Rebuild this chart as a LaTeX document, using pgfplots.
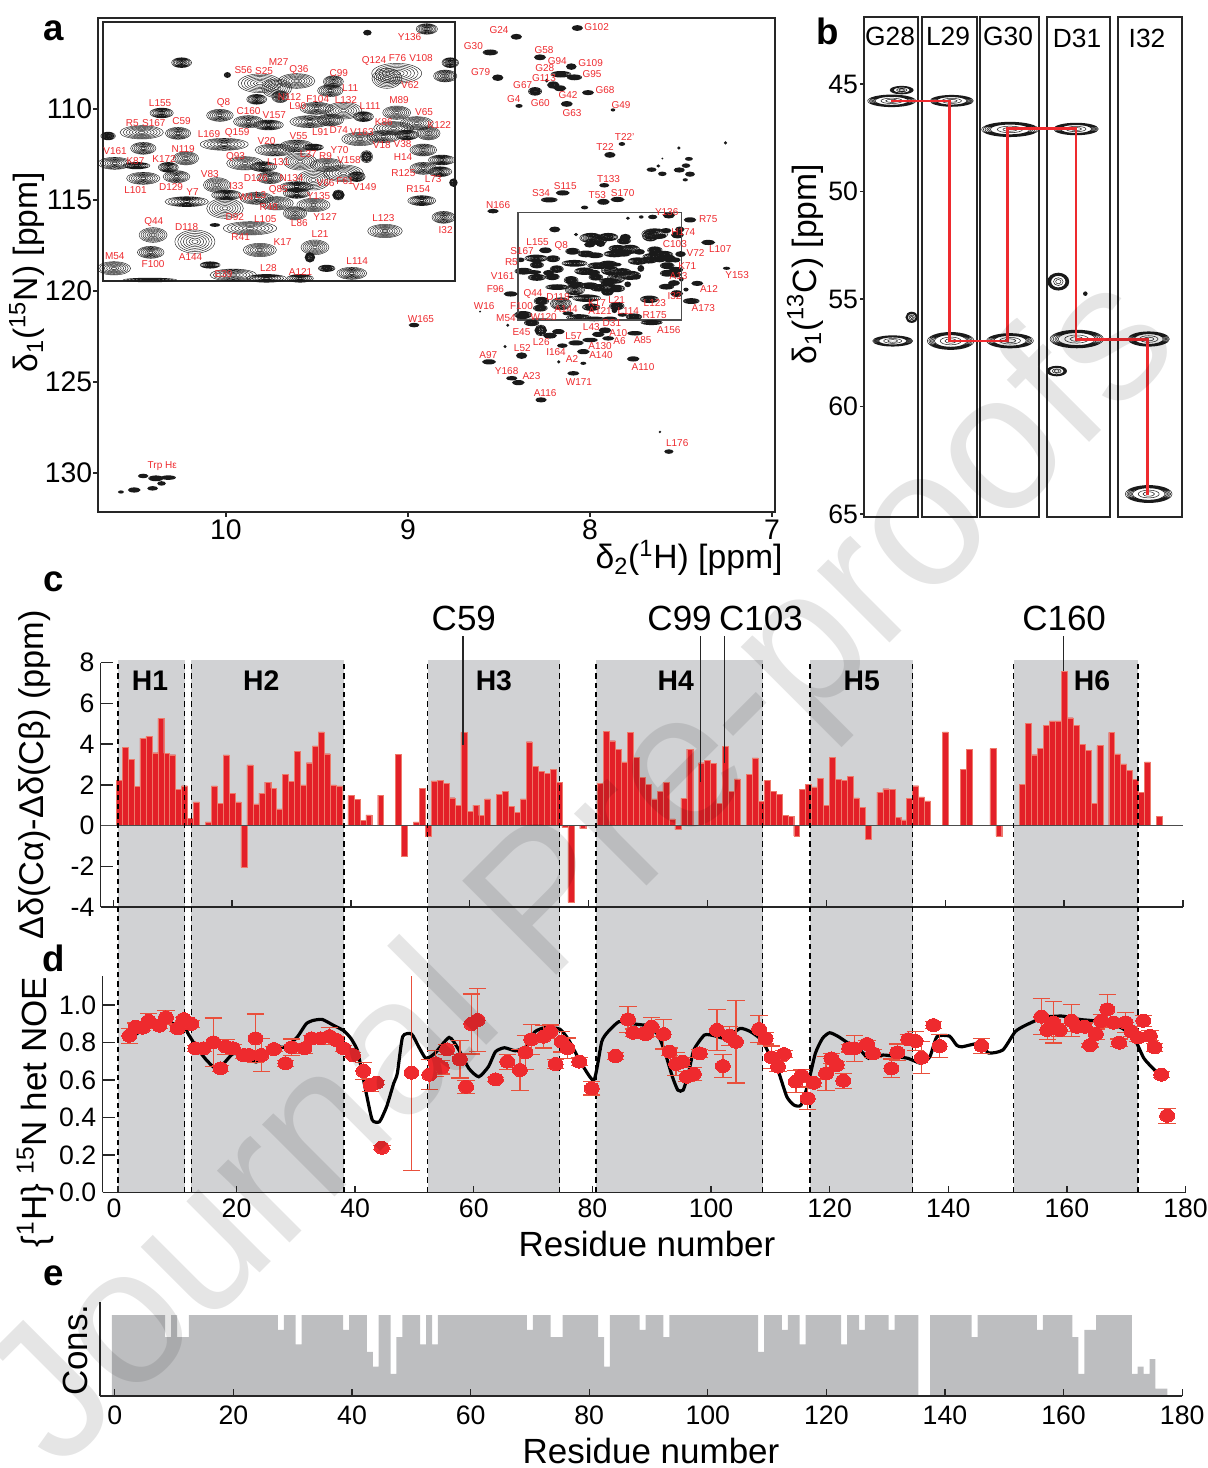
\documentclass[border=0pt]{standalone}
\usepackage{fontspec}
\setmainfont{Liberation Sans}
\usepackage{pgfplots}
\usepackage{pgfplotstable}
\pgfplotsset{compat=1.18}
\definecolor{pkc}{HTML}{1A1A1A}
\definecolor{lblred}{HTML}{EE2A2E}
\definecolor{barred}{HTML}{E32028}
\definecolor{baredge}{HTML}{EE7A6A}
\definecolor{ebred}{HTML}{E9503C}
\definecolor{helix}{HTML}{D1D2D4}
\definecolor{cons}{HTML}{BDBEC0}
\definecolor{spine}{HTML}{262626}
\newcommand\fT{\fontsize{21}{24}\selectfont}
\newcommand\fA{\fontsize{20.2}{24}\selectfont}
\newcommand\fK{\fontsize{16}{18}\selectfont}
\newcommand\fL{\fontsize{6}{7}\selectfont}
\def\pks{.2}\def\pklw{.3pt}
\newcommand\pkell[1]{\pgfpathellipse{\pgfpointorigin}{\pgfpoint{#1*\pa*\pks*1pt}{0pt}}{\pgfpoint{0pt}{#1*\pb*\pks*1pt}}}
\pgfdeclareplotmark{peak}{\pgfsetlinewidth{\pklw}\pgfsetstrokecolor{pkc}\pkell{1}\pkell{.86}\pkell{.72}\pkell{.58}\pkell{.44}\pkell{.3}\pkell{.16}\pgfusepathqstroke}
\pgfdeclareplotmark{peakb}{\pgfsetlinewidth{\pklw}\pgfsetstrokecolor{pkc}\pkell{1}\pkell{.94}\pkell{.88}\pkell{.82}\pkell{.76}\pkell{.7}\pkell{.45}\pkell{.25}\pgfusepathqstroke}
\pgfplotsset{
  base/.style={scale only axis,anchor=north west,axis line style={color=spine,line width=.9pt,-},tick style={color=spine,line width=.8pt},tick pos=left},
  peaks/.style={only marks,mark=peak,scatter,
    visualization depends on={\thisrow{a}\as\pa},
    visualization depends on={\thisrow{b}\as\pb},
    scatter/@pre marker code/.code={\pgfscope},
    scatter/@post marker code/.code={\endpgfscope}},
  labs/.style={mark=none,draw=none,nodes near coords,point meta=explicit symbolic,nodes near coords align={center},
    every node near coord/.style={font=\fL,text=lblred,inner sep=0pt}},
}
% ---------- 2D spectrum: peaks of the enlarged region (ppm, half axes)
\pgfplotstableread{
x y a b
7.567 115.847 32 16
7.719 115.931 12 8
8.194 116.615 30 15
8.077 116.896 10 8
7.644 116.858 75 30
7.669 116.972 45 30
7.507 116.615 25 15
7.520 116.919 35 18
7.994 117.086 65 28
7.900 117.033 55 22
7.951 117.2 45 28
7.814 117.253 38 18
7.806 117.048 30 18
8.002 117.451 30 15
7.942 117.39 25 18
8.245 117.762 35 15
8.096 117.816 40 18
8.023 117.96 45 18
7.972 118.036 45 15
7.849 117.656 50 18
7.780 117.709 55 25
7.729 117.846 30 15
7.866 117.96 60 18
7.814 117.922 40 18
7.644 117.755 42 20
7.593 117.998 50 20
7.652 118.112 60 20
7.563 118.226 35 20
7.738 118.355 55 20
7.678 118.302 50 18
7.618 118.264 35 15
8.296 118.203 65 20
8.203 118.226 38 18
8.382 118.287 22 12
8.085 118.477 72 18
8.292 118.568 38 18
7.955 118.606 60 18
7.900 118.515 50 18
7.857 118.545 30 10
8.365 118.91 50 18
8.309 118.963 40 10
8.183 118.796 38 20
8.228 119.001 30 15
8.207 119.214 40 18
8.292 119.252 50 18
8.032 118.91 55 20
7.985 118.986 40 15
7.891 118.872 50 25
7.823 118.948 50 20
7.780 119.138 60 25
7.721 118.758 18 18
7.746 119.214 25 15
7.576 118.606 40 18
7.529 118.834 40 15
7.576 119.024 40 18
7.533 119.1 35 15
7.968 119.237 40 18
7.857 119.29 50 30
7.900 119.442 50 15
8.104 119.404 40 22
8.181 119.784 65 15
8.079 119.632 45 15
8.083 119.936 55 30
8.002 119.708 50 18
7.951 119.822 50 20
7.900 119.594 40 15
7.857 119.86 50 20
7.793 119.632 18 15
7.904 120.05 35 20
7.580 119.761 42 15
7.524 120.141 35 18
7.674 120.453 52 20
7.499 119.351 12 12
8.019 120.392 80 20
8.267 120.544 42 22
8.160 120.696 60 35
8.273 120.939 40 18
7.994 120.886 50 20
7.853 120.825 42 22
7.866 121.053 15 15
8.367 121.304 50 20
7.759 121.418 45 18
7.823 121.304 25 10
8.062 121.456 70 18
7.977 121.532 60 12
7.891 121.532 40 12
8.121 121.228 30 10
8.275 121.57 80 6
8.109 120.316 15 5
}\tinsetpk
\pgfplotstableread{
x y lab
7.611 116.037 Y136
7.702 116.569 Q124
7.642 116.508 F76
7.582 116.508 V108
7.610 117.132 V62
8.036 116.79 S56
7.983 116.812 S25
7.946 116.6 M27
7.894 116.774 Q36
7.792 116.858 C99
7.763 117.2 L11
7.918 117.398 N112
8.249 117.542 L155
8.087 117.542 Q8
8.023 117.717 C160
7.957 117.8 V157
7.897 117.603 L90
7.846 117.436 F104
7.774 117.474 L132
7.712 117.603 L111
7.638 117.458 M89
7.574 117.74 V65
7.677 117.96 K86
7.535 118.044 K122
8.320 117.99 R5
8.265 117.99 S167
8.194 117.952 C59
7.839 118.188 L91
7.792 118.158 D74
7.733 118.203 V163
7.682 118.5 V18
7.629 118.462 V38
8.124 118.249 L169
8.052 118.218 Q159
7.977 118.393 V20
7.895 118.294 V55
8.364 118.636 V161
8.190 118.576 N119
8.312 118.849 K87
8.239 118.811 K172
8.056 118.773 Q93
7.947 118.872 L131
7.870 118.705 L37
7.826 118.743 R9
7.790 118.598 Y70
7.766 118.834 V158
7.628 118.766 H14
7.627 119.13 R125
7.551 119.275 L73
8.312 119.518 L101
8.221 119.457 D129
8.122 119.161 V83
8.004 119.237 D126
7.913 119.237 N134
7.826 119.366 V66
7.776 119.305 F61
7.726 119.45 V149
8.054 119.427 I33
8.166 119.556 Y7
7.947 119.526 Q85
8.030 119.678 W4
7.992 119.64 L3
7.844 119.662 Y135
7.589 119.495 R154
7.971 119.913 R48
8.058 120.126 D92
7.980 120.179 L105
7.827 120.141 Y127
7.893 120.278 L86
8.265 120.255 Q44
8.181 120.362 D118
7.678 120.149 L123
8.043 120.597 R41
7.519 120.43 I32
7.840 120.514 L21
7.936 120.704 K17
8.365 121.023 M54
8.267 121.198 F100
8.171 121.046 A144
7.745 121.137 L114
8.087 121.433 E39
7.972 121.304 L28
7.890 121.38 A121
}\tinsetlab
\pgfplotstableread{
x y a b
8.070 105.55 16 8
8.405 106.03 16 8
8.548 106.89 22 8
8.275 107.16 17 8
8.103 107.67 15 9
8.160 108.09 30 9
8.086 108.26 22 8
8.507 108.28 16 9
8.238 108.44 5 5
8.202 108.68 18 10
8.165 108.86 18 8
8.302 109.03 20 12
8.011 109.10 17 7
8.390 109.83 10 5
8.128 109.72 17 8
7.874 110.05 6 4
7.825 111.92 9 5
7.891 112.52 16 8
7.512 112.14 4 4
7.256 111.86 4 4
7.457 112.74 11 5
7.625 113.13 5 4
7.662 113.33 14 6
7.603 113.56 12 6
7.510 113.35 16 7
7.473 113.11 12 6
7.451 113.58 14 7
7.477 113.89 7 4
7.603 112.72 2 2
7.922 114.19 14 6
8.150 114.61 20 7
8.224 114.99 24 7
7.927 115.10 18 8
7.849 114.97 20 7
8.030 115.41 10 5
8.533 115.61 16 6
7.656 115.93 13 6
7.792 116.0 5 4
7.451 116.09 18 7
7.351 117.33 20 7
7.250 118.75 10 4
7.411 119.58 17 7
7.473 119.92 7 5
7.444 120.55 24 8
7.539 119.56 17 8
7.503 117.97 15 8
7.532 118.29 15 7
7.583 116.68 15 7
7.609 116.98 15 7
8.436 120.16 20 7
8.604 121.13 2 2
8.370 121.37 20 9
8.321 121.75 22 9
8.271 122.16 18 16
8.220 122.45 20 8
8.174 122.23 18 7
8.452 121.88 4 4
8.467 123.05 4 4
8.555 123.89 20 7
8.376 123.55 16 9
8.152 123.0 15 6
8.077 122.85 22 7
8.0 122.69 22 6
8.037 123.33 18 7
7.955 122.38 18 7
7.918 122.16 18 8
7.900 122.60 17 6
7.753 122.32 22 6
7.662 121.73 32 7
7.763 123.73 18 7
8.172 123.89 4 4
8.037 123.97 8 4
8.092 124.52 17 6
8.430 124.79 16 6
8.394 125.03 18 7
8.269 125.98 16 7
7.616 127.74 3 3
7.567 128.82 13 6
8.967 121.87 15 6
10.455 130.16 15 6
10.385 130.29 22 8
10.317 130.25 22 6
10.354 130.57 12 6
10.403 130.84 15 6
10.504 130.93 18 7
10.577 131.04 8 4
}\tmainpk
\pgfplotstableread{
x y lab
8.500 105.66 G24
7.964 105.51 G102
8.641 106.54 G30
8.253 106.74 G58
8.180 107.36 G94
7.997 107.47 G109
8.249 107.76 G28
7.989 108.09 G95
8.601 107.98 G79
8.253 108.31 G113
8.370 108.70 G67
7.918 108.97 G68
8.121 109.25 G42
8.419 109.48 G4
8.273 109.69 G60
7.830 109.79 G49
8.099 110.22 G63
7.810 111.55 T22'
7.918 112.08 T22
7.898 113.84 T133
8.136 114.21 S115
8.269 114.63 S34
7.960 114.72 T53
7.821 114.63 S170
8.505 115.28 N166
7.579 115.65 Y136
7.351 116.05 R75
8.288 117.31 L155
8.374 117.78 S167
8.158 117.53 Q8
8.432 118.40 R5
7.488 116.76 H174
7.534 117.42 C103
7.420 117.93 V72
7.285 117.71 L107
7.466 118.61 K71
7.192 119.12 Y153
8.480 119.19 V161
7.514 119.17 A13
8.520 119.90 F96
8.313 120.16 Q44
8.176 120.34 D118
7.536 120.29 I32
7.347 119.90 A12
8.582 120.82 W16
8.377 120.82 F100
7.962 120.64 K17
7.854 120.51 L21
7.644 120.64 L123
7.378 120.95 A173
8.462 121.46 M54
8.255 121.41 W120
8.132 120.98 A144
7.945 121.09 A121
7.790 121.09 L114
7.645 121.31 R175
8.377 122.25 E45
7.993 121.99 L43
7.880 121.77 D31
7.567 122.14 A156
7.845 122.32 A10
8.268 122.80 L26
8.090 122.50 L57
7.838 122.74 A6
7.711 122.72 A85
8.372 123.13 L52
7.945 123.02 A130
8.187 123.33 I164
7.940 123.53 A140
8.099 123.75 A2
8.559 123.53 A97
7.709 124.15 A110
8.458 124.39 Y168
8.322 124.66 A23
8.061 124.99 W171
8.247 125.61 A116
7.521 128.34 L176
8.929 121.54 W165
}\tmainlab
% ---------- strips
\pgfplotstableread{
x y a b
891.7 45.78 72 18
901.7 45.28 35 12
892.7 56.95 60 16
911.7 55.85 18 16
951.7 45.78 65 17
950.7 56.95 70 26
1010 47.11 85 22
1010 56.94 70 22
1076 47.09 67 18
1076.7 56.86 80 27
1058.3 54.19 32 26
1056.7 58.35 30 15
1085.3 54.75 6 6
1148.7 56.86 62 22
1148.7 64.07 70 26
}\tstrip
% ---------- het NOE
\pgfplotstableread{
r v e
1.93 .836 .04
3.0 .884 .02
4.2 .879 .015
5.2 .915 .04
7.0 .890 .015
8.1 .934 .035
10.1 .875 .015
11.1 .925 .01
12.35 .899 .02
13.07 .769 .015
14.46 .769 .015
16.1 .801 .13
17.3 .662 .015
18.2 .778 .04
19.4 .769 .02
21.2 .733 .02
22.1 .733 .02
23.2 .822 .13
24.2 .733 .09
26.3 .765 .015
28.25 .689 .015
29.3 .774 .045
31.45 .769 .027
32.65 .822 .015
34.2 .822 .015
35.66 .834 .045
36.87 .813 .02
38.07 .769 .015
39.6 .733 .015
41.4 .648 .045
42.6 .573 .035
43.6 .585 .01
44.5 .238 .01
49.5 .639 .523
52.5 .628 .08
53.6 .689 .07
54.6 .667 .035
55.5 .763 .027
57.65 .710 .1
58.7 .564 .035
59.6 .899 .16
60.66 .920 .17
63.7 .603 .01
65.66 .698 .04
67.77 .653 .11
68.7 .747 .09
69.7 .817 .08
71.8 .831 .06
72.9 .858 .035
73.8 .685 .025
74.8 .804 .055
75.8 .769 .055
77.8 .698 .02
79.9 .555 .035
83.9 .728 .02
86 .923 .07
86.9 .852 .02
88.7 .849 .02
89 .845 .02
90 .884 .05
92 .845 .08
93 .751 .02
94.1 .685 .06
95.2 .698 .02
95.9 .617 .027
97.1 .632 .035
98.1 .742 .02
101 .867 .11
102 .674 .06
103.1 .835 .05
104.2 .804 .22
108.1 .872 .07
109.2 .822 .03
110.2 .721 .06
111.3 .671 .027
112.3 .738 .02
114.3 .591 .06
115.3 .623 .035
116.3 .502 .06
117.3 .585 .02
119.4 .635 .09
120.3 .715 .027
121.2 .680 .02
122.3 .596 .04
123.3 .769 .02
124.2 .769 .07
126.3 .792 .02
127.3 .742 .02
130.4 .662 .05
131.4 .747 .045
133.25 .817 .027
134.5 .808 .05
135.5 .719 .085
137.5 .893 .02
138.55 .781 .06
145.6 .783 .04
155.7 .938 .095
156.7 .867 .05
157.7 .907 .11
158.8 .867 .035
160.8 .916 .085
161.7 .884 .027
163 .884 .02
163.9 .786 .01
164.9 .845 .027
165.8 .915 .035
166.8 .977 .08
167.9 .906 .02
168.8 .799 .02
169.9 .907 .055
170.9 .858 .027
172 .827 .02
172.9 .916 .03
174 .836 .027
174.8 .774 .02
175.9 .628 .015
176.9 .409 .04
}\tnoe
\begin{document}
\begin{tikzpicture}
\path[use as bounding box] (0,0) rectangle (724.8pt,-880.8pt);
% ================= panel a
\gdef\pks{.105}\gdef\pklw{.3pt}
\begin{axis}[base,at={(58.8pt,-10.8pt)},width=406.2pt,height=296.4pt,
  x dir=reverse,y dir=reverse,xmin=6.984,xmax=10.703,ymin=105,ymax=132.14,
  xtick={7,8,9,10},ytick={110,115,120,125,130},
  xticklabels={7,8,9,10},yticklabels={110,115,120,125,130},
  tick align=outside,major tick length=2.8pt,
  xticklabel style={font=\fontsize{17}{19}\selectfont,inner sep=0pt,yshift=-1.5pt},
  yticklabel style={font=\fontsize{17}{19}\selectfont,inner sep=0pt,xshift=-.5pt}]
\addplot[peaks] table {\tinsetpk};
\end{axis}
\gdef\pks{.2}
\begin{axis}[base,at={(58.8pt,-10.8pt)},width=406.2pt,height=296.4pt,hide axis,
  x dir=reverse,y dir=reverse,xmin=6.984,xmax=10.703,ymin=105,ymax=132.14]
\addplot[peaks] table {\tmainpk};
\addplot[labs] table[meta=lab] {\tmainlab};
\addplot[color=black!70,line width=.7pt] coordinates {(8.396,115.68)(7.497,115.68)(7.497,121.59)(8.396,121.59)(8.396,115.68)};
\node[font=\fL,text=lblred,inner sep=0pt] at (axis cs:10.350,129.61) {Trp Hε};
\end{axis}
% inset
\gdef\pks{.2}\gdef\pklw{.26pt}
\begin{axis}[base,at={(61.8pt,-13.2pt)},width=211.2pt,height=155.4pt,
  x dir=reverse,y dir=reverse,xmin=7.495,xmax=8.395,ymin=115.688,ymax=121.593,
  xtick=\empty,ytick=\empty,axis background/.style={fill=white}]
\addplot[peaks] table {\tinsetpk};
\addplot[labs] table[meta=lab] {\tinsetlab};
\end{axis}
\node[font=\fA] at (16.2pt,-163.2pt) [rotate=90] {δ\textsubscript{1}(\textsuperscript{15}N) [ppm]};
\node[font=\fA] at (413.4pt,-334.8pt) {δ\textsubscript{2}(\textsuperscript{1}H) [ppm]};
% ================= panel b
\gdef\pks{.2}\gdef\pklw{.3pt}
\begin{axis}[base,at={(518.4pt,-10.2pt)},width=32.4pt,height=300pt,y dir=reverse,xmin=864,xmax=918,ymin=41.88,ymax=65.14,
  xtick=\empty,ytick={45,50,55,60,65},yticklabels={45,50,55,60,65},tick align=outside,major tick length=2.4pt,
  yticklabel style={font=\fK,inner sep=0pt,xshift=-1pt}]
\addplot[peaks,mark=peakb] table {\tstrip};
\end{axis}
\begin{axis}[base,at={(553.2pt,-10.2pt)},width=33pt,height=300pt,y dir=reverse,xmin=922,xmax=977,ymin=41.88,ymax=65.14,xtick=\empty,ytick=\empty]
\addplot[peaks,mark=peakb] table {\tstrip};
\end{axis}
\begin{axis}[base,at={(588pt,-10.2pt)},width=35.4pt,height=300pt,y dir=reverse,xmin=980,xmax=1039,ymin=41.88,ymax=65.14,xtick=\empty,ytick=\empty]
\addplot[peaks,mark=peakb] table {\tstrip};
\end{axis}
\begin{axis}[base,at={(628.2pt,-10.2pt)},width=37.8pt,height=300pt,y dir=reverse,xmin=1047,xmax=1110,ymin=41.88,ymax=65.14,xtick=\empty,ytick=\empty]
\addplot[peaks,mark=peakb] table {\tstrip};
\end{axis}
\begin{axis}[base,at={(670.8pt,-10.2pt)},width=38.4pt,height=300pt,y dir=reverse,xmin=1118,xmax=1182,ymin=41.88,ymax=65.14,xtick=\empty,ytick=\empty]
\addplot[peaks,mark=peakb] table {\tstrip};
\end{axis}
\begin{axis}[base,at={(518.4pt,-10.2pt)},width=190.8pt,height=300pt,y dir=reverse,xmin=864,xmax=1182,ymin=41.88,ymax=65.14,hide axis]
\addplot[color=lblred,line width=1.6pt] coordinates {(891,45.78)(949.3,45.78)(949.3,56.95)(1007.3,56.95)(1007.3,47.06)(1076,47.06)(1076,56.87)(1147.3,56.87)(1147.3,64.11)};
\end{axis}
\foreach \t/\x/\y in {G28/534/21.6,L29/568.8/21.6,G30/604.8/21.6,D31/646.2/22.8,I32/688.2/22.8}
  \node[font=\fontsize{15.8}{18}\selectfont] at (\x pt,-\y pt) {\t};
\node[font=\fA,rotate=90] at (483pt,-158.4pt) {δ\textsubscript{1}(\textsuperscript{13}C) [ppm]};
% ================= helix shading across c and d
\begin{axis}[base,at={(61.5pt,-396pt)},width=649.8pt,height=319.2pt,hide axis,xmin=-2.598,xmax=180,ymin=0,ymax=1]
\addplot[fill=helix,draw=none] coordinates {(0,0)(11.25,0)(11.25,1)(0,1)} --cycle;
\addplot[fill=helix,draw=none] coordinates {(12.4,0)(38.1,0)(38.1,1)(12.4,1)} --cycle;
\addplot[fill=helix,draw=none] coordinates {(52.2,0)(74.5,0)(74.5,1)(52.2,1)} --cycle;
\addplot[fill=helix,draw=none] coordinates {(80.6,0)(108.7,0)(108.7,1)(80.6,1)} --cycle;
\addplot[fill=helix,draw=none] coordinates {(116.7,0)(134,0)(134,1)(116.7,1)} --cycle;
\addplot[fill=helix,draw=none] coordinates {(151,0)(172,0)(172,1)(151,1)} --cycle;
\end{axis}
% ================= panel c
\begin{axis}[base,at={(60.42pt,-397.62pt)},width=649.38pt,height=146.58pt,clip=false,
  axis x line*=bottom,axis y line*=left,xmin=-2.1,xmax=180,ymin=-4,ymax=8,
  xtick={0,20,...,180},xticklabels={},ytick={-4,-2,0,2,4,6,8},yticklabels={-4,-2,0,2,4,6,8},
  tick align=inside,major tick length=7.2pt,xtick style={/pgfplots/major tick length=4.2pt},
  yticklabel style={font=\fK,inner sep=0pt,xshift=-3.6pt}]
\addplot[ybar,bar width=1,bar shift=0pt,fill=barred,draw=baredge,line width=.2pt] coordinates {
(1,2.22)(2,3.83)(3,3.27)(4,1.93)(5,4.29)(6,4.37)(7,3.58)(8,5.27)(9,3.55)(10,3.48)
(11,1.77)(12,1.96)(13,.34)(14,1.16)(16,.18)(17,1.95)(18,1.1)(19,3.47)(20,1.6)
(21,1.16)(22,-2.05)(23,2.98)(24,1.06)(25,1.6)(26,2.13)(27,1.83)(28,.82)(29,2.52)(30,2.18)
(31,3.66)(32,2.0)(33,3.09)(34,3.91)(35,4.6)(36,3.53)(37,2.0)(38,1.95)
(40,1.47)(41,1.29)(42,.25)(43,.52)(45,1.5)(48,3.5)(49,-1.52)
(51,.18)(52,1.83)(53,-.54)(54,2.19)(55,2.22)(56,2.09)(57,1.37)(58,1.0)(59,4.58)(60,.69)
(61,1.0)(62,.49)(63,1.31)(65,1.55)(66,1.68)(67,.93)(68,.65)(69,1.31)(70,4.12)
(71,2.91)(72,2.67)(73,2.57)(74,2.76)(75,2.11)(76,-.1)(77,-3.77)(79,-.15)
(82,2.08)(83,4.62)(84,4.17)(85,3.76)(86,3.13)(87,4.58)(88,3.34)(89,2.37)(90,2.03)
(91,1.31)(92,1.68)(93,2.11)(94,.33)(95,-.2)(96,1.34)(97,3.76)(99,3.09)(100,3.22)
(101,3.06)(102,1.1)(103,3.88)(104,1.67)(105,2.29)(107,2.52)(108,3.32)(109,1.19)(110,2.21)
(111,1.68)(112,1.54)(113,.51)(114,.47)(115,-.5)(116,1.78)(117,2.04)(118,1.9)(119,2.32)(120,1.01)
(121,3.35)(122,2.27)(123,2.22)(124,2.42)(125,1.36)(126,.9)(127,-.65)(129,1.64)(130,1.81)
(131,1.77)(132,.41)(133,.28)(134,1.34)(135,1.96)(136,1.41)(137,1.21)(140,4.6)
(143,2.75)(144,3.75)(148,3.78)(149,-.5)(153,2.03)(154,5.02)(155,3.48)(156,3.8)(157,4.93)(158,5.14)(159,5.14)(160,7.59)
(161,5.3)(162,4.93)(163,3.98)(164,3.68)(165,1.1)(166,3.93)(168,4.58)(169,3.52)(170,3.03)
(171,2.7)(172,2.27)(173,1.64)(174,3.13)(176,.46)};
\addplot[color=black!70,line width=1.1pt] coordinates {(-2.1,0)(180,0)};
\addplot[color=spine,line width=.8pt] coordinates {(58.84,3.96)(58.84,9.31)};
\addplot[color=spine,line width=.8pt] coordinates {(98.87,2.16)(98.87,9.31)};
\addplot[color=spine,line width=.8pt] coordinates {(102.85,3.07)(102.85,9.31)};
\addplot[color=spine,line width=.8pt] coordinates {(159.93,7.6)(159.93,9.31)};
\foreach \t/\x in {H1/6.2,H2/24.9,H3/64.05,H4/94.65,H5/125.95,H6/164.7}
  {\edef\tmp{\noexpand\node[font=\noexpand\fontsize{17}{19}\noexpand\selectfont\noexpand\bfseries] at (axis cs:\x,7.1) {\t};}\tmp}
\foreach \t/\x in {C59/59,C99/95.3,C103/109,C160/160}
  {\edef\tmp{\noexpand\node[font=\noexpand\fT] at (axis cs:\x,10.15) {\t};}\tmp}
\end{axis}
% ================= dashed helix limits
\begin{axis}[base,at={(61.5pt,-396pt)},width=649.8pt,height=319.2pt,hide axis,xmin=-2.598,xmax=180,ymin=0,ymax=1]
\pgfplotsinvokeforeach{0,11.25,12.4,38.1,52.2,74.5,80.6,108.7,116.7,134,151,172}{
\addplot[color=black,line width=.85pt,dash pattern=on 3.2pt off 2.4pt] coordinates {(#1,0)(#1,1)};}
\end{axis}
% ================= panel d
\begin{axis}[base,at={(61.5pt,-585.6pt)},width=649.8pt,height=129.78pt,
  axis x line*=bottom,axis y line*=left,xmin=-2.598,xmax=180,ymin=0,ymax=1.155,
  xtick={0,20,...,180},xticklabels={\makebox[0pt]{\hspace{-4.5pt}0},20,40,60,80,100,120,140,160,180},
  ytick={0,.2,.4,.6,.8,1},yticklabels={0.0,0.2,0.4,0.6,0.8,1.0},
  tick align=inside,major tick length=7.2pt,xtick style={/pgfplots/major tick length=3.6pt},
  xticklabel style={font=\fK,inner sep=0pt,yshift=-3.9pt},
  yticklabel style={font=\fK,inner sep=0pt,xshift=-3.6pt},
  error bars/error bar style={line width=.8pt,color=ebred}]
\addplot[color=black,line width=1.9pt,smooth,tension=.35,mark=none] coordinates {
(1.93,.822)(3.73,.858)(5.54,.893)(7.35,.902)(9.16,.902)(11.27,.875)(11.87,.845)(13.37,.769)(14.88,.708)(16.39,.664)
(17.89,.690)(19.40,.740)(21.2,.731)(23.31,.696)(24.82,.740)(26.63,.776)(28.43,.776)(30.24,.829)(31.75,.900)(32.95,.918)
(34.46,.923)(36.27,.893)(38.07,.863)(39.28,.822)(40.36,.760)(41.08,.653)(41.99,.511)(42.89,.386)(44.10,.377)(45.3,.457)
(46.5,.582)(47.11,.635)(48.01,.831)(49.52,.845)(50.72,.777)(51.93,.715)(53.43,.742)(55.84,.827)(57.35,.768)(59.16,.662)
(60.84,.617)(62.47,.671)(63.67,.751)(65.18,.772)(66.99,.756)(68.8,.777)(70.3,.857)(72.11,.880)(74.52,.871)(76.02,.813)
(77.83,.706)(80.24,.599)(81.57,.804)(82.65,.858)(84.46,.911)(86.27,.902)(88.67,.893)(89.28,.893)(91.08,.840)(92.29,.742)
(93.49,.617)(94.4,.546)(95.3,.546)(96.2,.635)(97.1,.760)(98.9,.840)(100.7,.835)(102.5,.822)(104.9,.875)(106.7,.857)
(108.55,.813)(109.76,.742)(111.27,.653)(112.77,.511)(113.98,.466)(115.18,.466)(116.39,.582)(117.59,.742)(118.8,.822)(120,.852)
(121.5,.831)(123.6,.786)(125.4,.751)(126.6,.715)(129,.733)(131.4,.724)(133.25,.715)(135.4,.689)(136.9,.724)(138.1,.831)
(140.2,.834)(141.4,.786)(142.3,.777)(145.3,.795)(146.8,.744)(149.2,.760)(151.3,.858)(153.1,.893)(156.1,.934)(159.2,.941)
(162.2,.923)(164.6,.916)(167,.902)(169.4,.875)(171.5,.813)(173,.715)(174.8,.653)(176,.626)};
\addplot[color=ebred,only marks,mark=*,mark size=3.9pt,mark options={fill=lblred,draw=lblred,xscale=1.15,line width=0pt},
  error bars/.cd,y dir=both,y explicit,
  error mark options={rotate=90,mark size=5.2pt,line width=.7pt,color=ebred}]
  table[x=r,y=v,y error=e] {\tnoe};
\end{axis}
\node[font=\fT,rotate=90] at (21pt,-667.2pt) {\{\textsuperscript{1}H\} \textsuperscript{15}N het NOE};
\node[font=\fT] at (388.2pt,-746.4pt) {Residue number};
\node[font=\fontsize{20.6}{24}\selectfont,rotate=90] at (21pt,-465pt) {Δδ(Cα)-Δδ(Cβ) (ppm)};
% ================= panel e
\begin{axis}[base,at={(60pt,-781.2pt)},width=649.3pt,height=56.4pt,axis on top,
  axis x line*=bottom,axis y line*=left,xmin=-2.5,xmax=180,ymin=0,ymax=12.77,
  xtick={0,20,...,180},xticklabels={0,20,40,60,80,100,120,140,160,180},ytick=\empty,
  tick align=inside,major tick length=4.2pt,
  xticklabel style={font=\fK,inner sep=0pt,yshift=-6pt}]
\addplot[ybar,bar width=1,bar shift=0pt,fill=cons,draw=none] coordinates {
(0,11)(1,11)(2,11)(3,11)(4,11)(5,11)(6,11)(7,11)(8,11)(9,8)
(10,11)(11,8)(12,8)(13,11)(14,11)(15,11)(16,11)(17,11)(18,11)(19,11)
(20,11)(21,11)(22,11)(23,11)(24,11)(25,11)(26,11)(27,11)(28,9)(29,11)
(30,11)(31,7)(32,11)(33,11)(34,11)(35,11)(36,11)(37,11)(38,11)(39,9)
(40,11)(41,11)(42,11)(43,6)(44,4)(45,11)(46,11)(47,3)(48,8)(49,11)
(50,11)(51,11)(52,7)(53,11)(54,7)(55,11)(56,11)(57,11)(58,11)(59,11)
(60,11)(61,11)(62,11)(63,11)(64,11)(65,11)(66,11)(67,11)(68,11)(69,11)
(70,9)(71,11)(72,11)(73,11)(74,8)(75,8)(76,11)(77,11)(78,11)(79,11)
(80,11)(81,11)(82,8)(83,4)(84,11)(85,11)(86,11)(87,11)(88,11)(89,9)
(90,11)(91,11)(92,11)(93,8)(94,11)(95,11)(96,11)(97,11)(98,11)(99,11)
(100,11)(101,11)(102,11)(103,11)(104,11)(105,11)(106,11)(107,11)(108,11)(109,6)
(110,11)(111,11)(112,11)(113,9)(114,11)(115,11)(116,7)(117,11)(118,11)(119,11)
(120,11)(121,11)(122,11)(123,7)(124,11)(125,11)(126,9)(127,11)(128,11)(129,11)
(130,11)(131,9)(132,11)(133,11)(134,11)(135,11)(136,0)(137,0)(138,11)(139,11)
(140,11)(141,11)(142,11)(143,11)(144,11)(145,8)(146,11)(147,11)(148,11)(149,11)
(150,11)(151,11)(152,11)(153,11)(154,11)(155,11)(156,9)(157,11)(158,11)(159,11)
(160,11)(161,11)(162,8)(163,3)(164,9)(165,9)(166,11)(167,11)(168,11)(169,11)
(170,11)(171,11)(172,3)(173,4)(174,3)(175,5)(176,1)(177,1)};
\end{axis}
\node[font=\fT,rotate=90] at (45pt,-810pt) {Cons.};
\node[font=\fT] at (390.6pt,-870.6pt) {Residue number};
% panel letters
\foreach \t/\x/\y in {a/32.4/18.6,b/496.8/18.6,c/32.4/349.2,d/32.4/574.8,e/32.4/765.6}
  \node[font=\fontsize{22}{24}\selectfont\bfseries] at (\x pt,-\y pt) {\t};
% watermark
\node[rotate=45,opacity=.1,font=\fontsize{116}{130}\selectfont,inner sep=0pt] at (352pt,-525pt) {Journal Pre-proofs};
\end{tikzpicture}
\end{document}
